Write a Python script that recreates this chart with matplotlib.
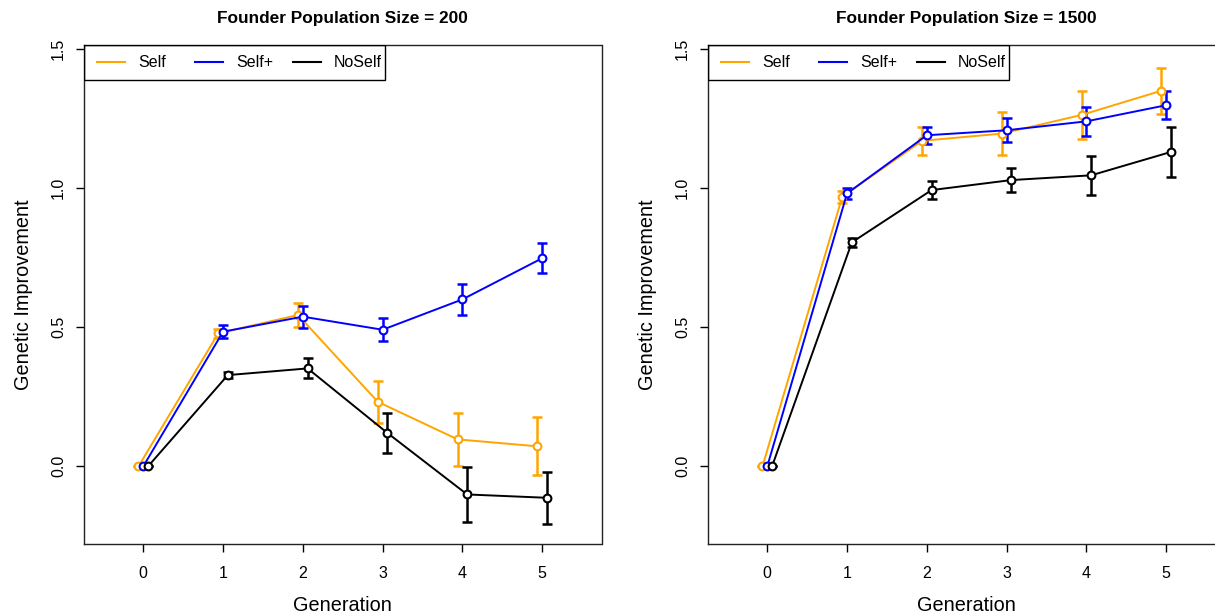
import matplotlib
matplotlib.use("Agg")
import numpy as np
import matplotlib.pyplot as plt
from matplotlib.patches import Rectangle

plt.rcParams['font.family'] = ['Liberation Sans', 'DejaVu Sans']

generation = [0, 1, 2, 3, 4, 5]
groups = ["Self", "Self+", "NoSelf"]
colors = ["orange", "blue", "black"]

# founder population 200: mean genetic improvement and error per generation
self_200 = [0.0, 0.478, 0.544, 0.232, 0.097, 0.072]
self_200_err = [0.0, 0.015, 0.043, 0.075, 0.095, 0.104]
selfplus_200 = [0.0, 0.484, 0.538, 0.491, 0.600, 0.748]
selfplus_200_err = [0.0, 0.024, 0.040, 0.041, 0.056, 0.054]
noself_200 = [0.0, 0.328, 0.352, 0.120, -0.101, -0.113]
noself_200_err = [0.0, 0.012, 0.036, 0.071, 0.100, 0.094]

# founder population 1500
self_1500 = [0.0, 0.969, 1.170, 1.196, 1.263, 1.350]
self_1500_err = [0.0, 0.022, 0.051, 0.077, 0.086, 0.083]
selfplus_1500 = [0.0, 0.981, 1.190, 1.208, 1.240, 1.298]
selfplus_1500_err = [0.0, 0.020, 0.030, 0.044, 0.051, 0.051]
noself_1500 = [0.0, 0.805, 0.993, 1.029, 1.046, 1.130]
noself_1500_err = [0.0, 0.015, 0.031, 0.043, 0.070, 0.090]

panels = [
    ("Founder Population Size = 200",
     [self_200, selfplus_200, noself_200],
     [self_200_err, selfplus_200_err, noself_200_err]),
    ("Founder Population Size = 1500",
     [self_1500, selfplus_1500, noself_1500],
     [self_1500_err, selfplus_1500_err, noself_1500_err]),
]

offsets = [-0.06, 0.0, 0.06]

W, H = 1215, 615
fig = plt.figure(figsize=(W / 100, H / 100), dpi=100)

ax_w, ax_h = 517.5, 499.0
lefts = [84, 708]

for left, (title, means, errs) in zip(lefts, panels):
    ax = fig.add_axes([left / W, (H - 543.7) / H, ax_w / W, ax_h / H])
    x = np.array(generation, dtype=float)
    for m, e, col, off in zip(means, errs, colors, offsets):
        ax.errorbar(x + off, m, yerr=e, fmt='none', ecolor=col,
                    elinewidth=1.8, capsize=3.8, capthick=1.8, zorder=2)
        ax.plot(x + off, m, '-o', color=col, lw=1.4, ms=5.6,
                mfc='white', mec=col, mew=1.5, zorder=3)

    ax.set_xlim(-0.743, 5.744)
    ax.set_ylim(-0.278, 1.5155)
    ax.set_xticks(generation)
    ax.set_xticklabels([str(g) for g in generation])
    yt = [0.0, 0.5, 1.0, 1.5]
    ax.set_yticks(yt)
    ax.set_yticklabels([f"{v:.1f}" for v in yt], rotation=90, va='center')
    ax.tick_params(direction='out', length=6, width=1, labelsize=11.5,
                   colors='black')
    ax.tick_params(axis='x', pad=10)
    ax.tick_params(axis='y', pad=7)
    for s in ax.spines.values():
        s.set_linewidth(1)
        s.set_color('#222222')

    ax.set_xlabel("Generation", fontsize=14.3, labelpad=10.5)
    ax.set_ylabel("Genetic Improvement", fontsize=14.3, labelpad=13)
    ax.set_title(title, fontsize=12.4, fontweight='bold', pad=15.5)

    # legend box in the top left corner
    ax.add_patch(Rectangle((0, 1 - 35 / ax_h), 301 / ax_w, 35 / ax_h,
                           transform=ax.transAxes, fill=False,
                           ec='black', lw=1, zorder=5))
    yc = 1 - 17.5 / ax_h
    for i, (name, col) in enumerate(zip(groups, colors)):
        x0 = (13 + i * 98) / ax_w
        ax.plot([x0, x0 + 28 / ax_w], [yc, yc], color=col, lw=1.5,
                transform=ax.transAxes, zorder=5)
        ax.text(x0 + 41 / ax_w, yc, name, fontsize=11.5, va='center',
                ha='left', transform=ax.transAxes, zorder=5)

fig.savefig("out.png", dpi=100)
